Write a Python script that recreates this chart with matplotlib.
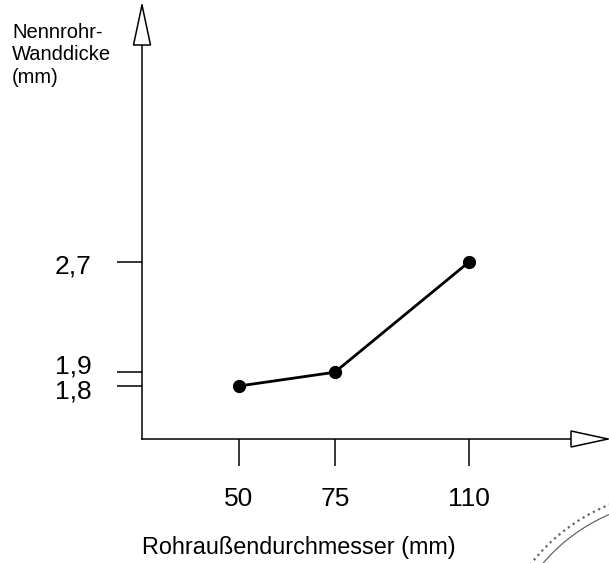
import matplotlib
matplotlib.use("Agg")
import matplotlib.pyplot as plt
from matplotlib.patches import Polygon, Arc
import matplotlib.transforms as mtransforms

# values
diameters = [50, 75, 110]          # Rohraußendurchmesser (mm)
wall = [1.8, 1.9, 2.7]             # Nennrohr-Wanddicke (mm)
x_labels = ["50", "75", "110"]
y_labels = ["1,8", "1,9", "2,7"]

plt.rcParams["font.family"] = ["Liberation Sans", "DejaVu Sans"]

W, H = 609, 563
fig = plt.figure(figsize=(W / 100, H / 100), dpi=100)
ax = fig.add_axes([142 / W, (H - 439) / H, 466 / W, 434 / H])

ax.plot(diameters, wall, color="black", lw=2.0, marker="o", ms=8.5,
        clip_on=False, zorder=4)
ax.set_xlim(24.69, 146.26)
ax.set_ylim(1.4153, 4.5653)

for s in ["top", "right"]:
    ax.spines[s].set_visible(False)
for s in ["left", "bottom"]:
    ax.spines[s].set_linewidth(1.1)

ax.set_xticks(diameters, x_labels)
ax.set_yticks(wall, y_labels)
ax.tick_params(axis="x", length=19.4, width=1.1, pad=15, labelsize=19)
ax.tick_params(axis="y", length=18, width=1.1, pad=18, labelsize=19)

# pull the crowded labels 1,9 / 1,8 apart like in the original
nudge = {"1,9": 8, "1,8": -3, "2,7": -2}
for lab in ax.get_yticklabels():
    dy = nudge.get(lab.get_text(), 0)
    lab.set_transform(lab.get_transform() +
                      mtransforms.ScaledTranslation(0, dy / 100, fig.dpi_scale_trans))

# open arrow heads at the ends of the axes
ya = Polygon([[-0.01824, 0.9078], [0, 1], [0.01824, 0.9078]], closed=True,
             transform=ax.transAxes, facecolor="white", edgecolor="black",
             lw=1.1, clip_on=False, zorder=5)
xa = Polygon([[0.9206, -0.01843], [1, 0], [0.9206, 0.01843]], closed=True,
             transform=ax.transAxes, facecolor="white", edgecolor="black",
             lw=1.1, clip_on=False, zorder=5)
ax.add_patch(ya)
ax.add_patch(xa)

fig.text(12 / W, 1 - 23 / H, "Nennrohr-\nWanddicke\n(mm)", ha="left", va="top",
         fontsize=14.5, linespacing=1.22)
fig.text(299 / W, 1 - 536 / H, "Rohraußendurchmesser (mm)", ha="center",
         va="top", fontsize=16.8)

# bit of a stamp in the lower right corner of the scan
cx, cy = 680 / W, 1 - 680 / H
fig.add_artist(Arc((cx, cy), 2 * 189 / W, 2 * 189 / H, theta1=90, theta2=180,
                   transform=fig.transFigure, color="#666666", lw=1.6, ls=":"))
fig.add_artist(Arc((cx, cy), 2 * 180 / W, 2 * 180 / H, theta1=90, theta2=180,
                   transform=fig.transFigure, color="#555555", lw=0.8))

fig.savefig("out.png", dpi=100)
